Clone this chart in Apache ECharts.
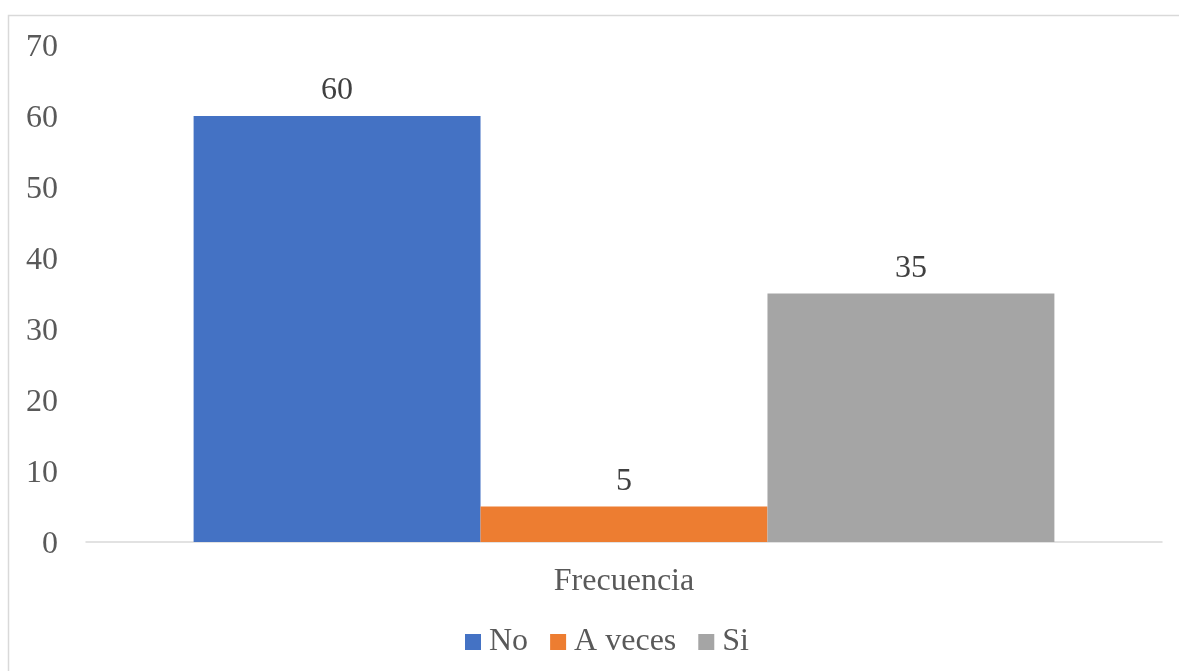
<!DOCTYPE html>
<html><head><meta charset="utf-8">
<script src="https://cdn.jsdelivr.net/npm/echarts@6/dist/echarts.min.js"></script>
<style>html,body{margin:0;padding:0;background:#fff}#c{width:1179px;height:671px}</style>
</head><body><div id="c"></div>
<script>
const categories = ['Frecuencia'];
const seriesNames = ['No', 'A veces', 'Si'];
const seriesValues = [[60], [5], [35]];
const colors = ['#4472C4', '#ED7D31', '#A5A5A5'];
const yTicks = { min: 0, max: 70, interval: 10 };

const font = '"Liberation Serif", "Times New Roman", serif';
const chart = echarts.init(document.getElementById('c'), null, { renderer: 'canvas' });
chart.setOption({
  animation: false,
  backgroundColor: '#fff',
  textStyle: { fontFamily: font },
  graphic: [{
    type: 'rect', z: -1,
    shape: { x: 8.5, y: 15.5, width: 1300, height: 800 },
    style: { fill: 'none', stroke: '#D9D9D9', lineWidth: 1.5 }
  }],
  grid: { left: 86, right: 17, top: 45, bottom: 129, containLabel: false },
  legend: {
    data: seriesNames,
    bottom: 13,
    left: 465,
    padding: 0,
    icon: 'rect',
    itemWidth: 16, itemHeight: 16,
    itemGap: 22,
    textStyle: { fontFamily: font, fontSize: 32, color: '#595959', padding: [0, 0, 0, 3] }
  },
  xAxis: {
    type: 'category', data: categories,
    axisLine: { lineStyle: { color: '#D9D9D9', width: 1.5 } },
    axisTick: { show: false },
    axisLabel: { fontFamily: font, fontSize: 32, color: '#595959', margin: 24 }
  },
  yAxis: {
    type: 'value', min: yTicks.min, max: yTicks.max, interval: yTicks.interval,
    axisLine: { show: false }, axisTick: { show: false },
    splitLine: { show: false },
    axisLabel: {
      fontFamily: font, fontSize: 32, color: '#595959', margin: 28,
      formatter: '{a|{value}}',
      rich: { a: { fontFamily: font, fontSize: 32, color: '#595959', padding: [6, 0, 0, 0] } }
    }
  },
  series: seriesNames.map((n, i) => ({
    name: n, type: 'bar', data: seriesValues[i],
    barGap: '0%', barCategoryGap: '20%',
    itemStyle: { color: colors[i] },
    label: { show: true, position: 'top', distance: 9, fontFamily: font, fontSize: 32, color: '#404040' }
  }))
});
</script></body></html>
